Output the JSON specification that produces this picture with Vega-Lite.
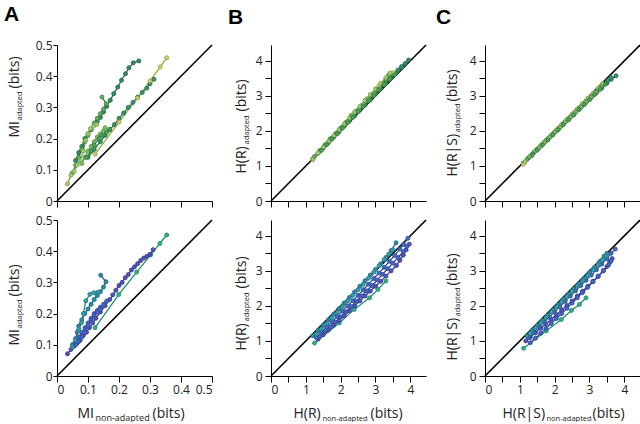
{
"$schema": "https://vega.github.io/schema/vega-lite/v6.json",
"padding": {"left": 4, "top": 4, "right": 0, "bottom": 0},
"bounds": "flush",
"columns": 3,
"spacing": {"row": 19, "column": 59},
"config": {
 "view": {"stroke": null},
 "font": "Open Sans",
 "axis": {"grid": false, "domainColor": "#000", "tickColor": "#000", "labelColor": "#222", "labelFont": "Open Sans", "labelFontSize": 12, "titleFont": "Open Sans", "titleFontWeight": "normal", "titleColor": "#222", "titleFontSize": 14, "tickSize": 5, "labelPadding": 2},
 "title": {"font": "Liberation Sans", "fontSize": 21, "fontWeight": "bold", "anchor": "start", "color": "#000", "frame": "group"}
},
"datasets": {
 "diagA": [{"x": 0, "y": 0}, {"x": 0.5, "y": 0.5}],
 "diagH": [{"x": 0, "y": 0}, {"x": 4.45, "y": 4.45}],
 "pts": [
{"p":"A1","s":"g1","x":0.06,"y":0.13},{"p":"A1","s":"g1","x":0.07,"y":0.155},{"p":"A1","s":"g1","x":0.08,"y":0.175},{"p":"A1","s":"g1","x":0.09,"y":0.2},{"p":"A1","s":"g1","x":0.1,"y":0.215},{"p":"A1","s":"g1","x":0.11,"y":0.228},{"p":"A1","s":"g1","x":0.12,"y":0.245},{"p":"A1","s":"g1","x":0.13,"y":0.255},{"p":"A1","s":"g1","x":0.14,"y":0.268},{"p":"A1","s":"g1","x":0.15,"y":0.285},{"p":"A1","s":"g1","x":0.16,"y":0.303},{"p":"A1","s":"g1","x":0.172,"y":0.323},{"p":"A1","s":"g1","x":0.183,"y":0.344},{"p":"A1","s":"g1","x":0.196,"y":0.365},{"p":"A1","s":"g1","x":0.208,"y":0.387},{"p":"A1","s":"g1","x":0.221,"y":0.408},{"p":"A1","s":"g1","x":0.232,"y":0.427},{"p":"A1","s":"g1","x":0.246,"y":0.443},{"p":"A1","s":"g1","x":0.264,"y":0.449},
{"p":"A1","s":"g2","x":0.1,"y":0.14},{"p":"A1","s":"g2","x":0.12,"y":0.165},{"p":"A1","s":"g2","x":0.14,"y":0.19},{"p":"A1","s":"g2","x":0.155,"y":0.21},{"p":"A1","s":"g2","x":0.17,"y":0.228},{"p":"A1","s":"g2","x":0.185,"y":0.245},{"p":"A1","s":"g2","x":0.2,"y":0.265},{"p":"A1","s":"g2","x":0.215,"y":0.282},{"p":"A1","s":"g2","x":0.23,"y":0.3},{"p":"A1","s":"g2","x":0.245,"y":0.316},{"p":"A1","s":"g2","x":0.26,"y":0.333},{"p":"A1","s":"g2","x":0.275,"y":0.348},{"p":"A1","s":"g2","x":0.29,"y":0.362},{"p":"A1","s":"g2","x":0.3,"y":0.376},{"p":"A1","s":"g2","x":0.313,"y":0.39},
{"p":"A1","s":"g3","x":0.123,"y":0.15},{"p":"A1","s":"g3","x":0.2,"y":0.253},{"p":"A1","s":"g3","x":0.26,"y":0.33},{"p":"A1","s":"g3","x":0.3,"y":0.385},{"p":"A1","s":"g3","x":0.333,"y":0.43},{"p":"A1","s":"g3","x":0.354,"y":0.459},
{"p":"A1","s":"g4","x":0.05,"y":0.09},{"p":"A1","s":"g4","x":0.06,"y":0.115},{"p":"A1","s":"g4","x":0.07,"y":0.14},{"p":"A1","s":"g4","x":0.08,"y":0.165},{"p":"A1","s":"g4","x":0.09,"y":0.19},{"p":"A1","s":"g4","x":0.1,"y":0.21},{"p":"A1","s":"g4","x":0.11,"y":0.23},{"p":"A1","s":"g4","x":0.12,"y":0.25},{"p":"A1","s":"g4","x":0.13,"y":0.265},{"p":"A1","s":"g4","x":0.14,"y":0.28},{"p":"A1","s":"g4","x":0.15,"y":0.295},{"p":"A1","s":"g4","x":0.159,"y":0.312},{"p":"A1","s":"g4","x":0.145,"y":0.333},
{"p":"A1","s":"g5","x":0.034,"y":0.055},{"p":"A1","s":"g5","x":0.045,"y":0.083},{"p":"A1","s":"g5","x":0.055,"y":0.095},{"p":"A1","s":"g5","x":0.065,"y":0.115},{"p":"A1","s":"g5","x":0.075,"y":0.13},{"p":"A1","s":"g5","x":0.085,"y":0.16},{"p":"A1","s":"g5","x":0.093,"y":0.195},{"p":"A1","s":"g5","x":0.1,"y":0.215},{"p":"A1","s":"g5","x":0.108,"y":0.232},{"p":"A1","s":"g5","x":0.118,"y":0.24},{"p":"A1","s":"g5","x":0.128,"y":0.245},
{"p":"A1","s":"g6","x":0.08,"y":0.12},{"p":"A1","s":"g6","x":0.09,"y":0.14},{"p":"A1","s":"g6","x":0.1,"y":0.16},{"p":"A1","s":"g6","x":0.11,"y":0.175},{"p":"A1","s":"g6","x":0.12,"y":0.19},{"p":"A1","s":"g6","x":0.13,"y":0.205},{"p":"A1","s":"g6","x":0.14,"y":0.215},{"p":"A1","s":"g6","x":0.15,"y":0.225},{"p":"A1","s":"g6","x":0.155,"y":0.235},
{"p":"A1","s":"g7","x":0.095,"y":0.14},{"p":"A1","s":"g7","x":0.11,"y":0.16},{"p":"A1","s":"g7","x":0.12,"y":0.18},{"p":"A1","s":"g7","x":0.135,"y":0.2},{"p":"A1","s":"g7","x":0.145,"y":0.21},{"p":"A1","s":"g7","x":0.16,"y":0.22},{"p":"A1","s":"g7","x":0.17,"y":0.23},

{"p":"A2","s":"b1","x":0.123,"y":0.155},{"p":"A2","s":"b1","x":0.199,"y":0.261},{"p":"A2","s":"b1","x":0.257,"y":0.333},{"p":"A2","s":"b1","x":0.302,"y":0.388},{"p":"A2","s":"b1","x":0.332,"y":0.425},{"p":"A2","s":"b1","x":0.354,"y":0.452},
{"p":"A2","s":"b2","x":0.034,"y":0.071},{"p":"A2","s":"b2","x":0.045,"y":0.085},{"p":"A2","s":"b2","x":0.055,"y":0.095},{"p":"A2","s":"b2","x":0.065,"y":0.105},{"p":"A2","s":"b2","x":0.075,"y":0.115},{"p":"A2","s":"b2","x":0.085,"y":0.13},{"p":"A2","s":"b2","x":0.095,"y":0.14},{"p":"A2","s":"b2","x":0.105,"y":0.155},{"p":"A2","s":"b2","x":0.115,"y":0.17},{"p":"A2","s":"b2","x":0.125,"y":0.185},{"p":"A2","s":"b2","x":0.14,"y":0.205},{"p":"A2","s":"b2","x":0.155,"y":0.225},{"p":"A2","s":"b2","x":0.17,"y":0.245},{"p":"A2","s":"b2","x":0.18,"y":0.26},{"p":"A2","s":"b2","x":0.19,"y":0.275},{"p":"A2","s":"b2","x":0.2,"y":0.29},{"p":"A2","s":"b2","x":0.21,"y":0.3},{"p":"A2","s":"b2","x":0.22,"y":0.315},{"p":"A2","s":"b2","x":0.23,"y":0.325},{"p":"A2","s":"b2","x":0.24,"y":0.34},{"p":"A2","s":"b2","x":0.25,"y":0.35},{"p":"A2","s":"b2","x":0.26,"y":0.36},{"p":"A2","s":"b2","x":0.27,"y":0.37},{"p":"A2","s":"b2","x":0.28,"y":0.378},{"p":"A2","s":"b2","x":0.29,"y":0.384},{"p":"A2","s":"b2","x":0.3,"y":0.39},{"p":"A2","s":"b2","x":0.31,"y":0.405},
{"p":"A2","s":"b3","x":0.05,"y":0.1},{"p":"A2","s":"b3","x":0.06,"y":0.11},{"p":"A2","s":"b3","x":0.07,"y":0.125},{"p":"A2","s":"b3","x":0.08,"y":0.14},{"p":"A2","s":"b3","x":0.09,"y":0.155},{"p":"A2","s":"b3","x":0.1,"y":0.17},{"p":"A2","s":"b3","x":0.11,"y":0.185},{"p":"A2","s":"b3","x":0.12,"y":0.2},{"p":"A2","s":"b3","x":0.13,"y":0.21},{"p":"A2","s":"b3","x":0.14,"y":0.22},{"p":"A2","s":"b3","x":0.15,"y":0.23},{"p":"A2","s":"b3","x":0.16,"y":0.24},
{"p":"A2","s":"b4","x":0.05,"y":0.1},{"p":"A2","s":"b4","x":0.06,"y":0.12},{"p":"A2","s":"b4","x":0.065,"y":0.14},{"p":"A2","s":"b4","x":0.07,"y":0.16},{"p":"A2","s":"b4","x":0.08,"y":0.18},{"p":"A2","s":"b4","x":0.09,"y":0.2},{"p":"A2","s":"b4","x":0.1,"y":0.215},{"p":"A2","s":"b4","x":0.11,"y":0.23},{"p":"A2","s":"b4","x":0.12,"y":0.245},{"p":"A2","s":"b4","x":0.13,"y":0.258},{"p":"A2","s":"b4","x":0.14,"y":0.27},{"p":"A2","s":"b4","x":0.15,"y":0.285},{"p":"A2","s":"b4","x":0.158,"y":0.302},{"p":"A2","s":"b4","x":0.141,"y":0.323},
{"p":"A2","s":"b5","x":0.05,"y":0.095},{"p":"A2","s":"b5","x":0.06,"y":0.115},{"p":"A2","s":"b5","x":0.07,"y":0.15},{"p":"A2","s":"b5","x":0.079,"y":0.171},{"p":"A2","s":"b5","x":0.085,"y":0.2},{"p":"A2","s":"b5","x":0.093,"y":0.241},{"p":"A2","s":"b5","x":0.106,"y":0.262},{"p":"A2","s":"b5","x":0.119,"y":0.267},{"p":"A2","s":"b5","x":0.133,"y":0.269},
{"p":"A2","s":"b6","x":0.06,"y":0.1},{"p":"A2","s":"b6","x":0.07,"y":0.11},{"p":"A2","s":"b6","x":0.08,"y":0.125},{"p":"A2","s":"b6","x":0.09,"y":0.14},{"p":"A2","s":"b6","x":0.1,"y":0.16},{"p":"A2","s":"b6","x":0.11,"y":0.18},{"p":"A2","s":"b6","x":0.12,"y":0.195},{"p":"A2","s":"b6","x":0.13,"y":0.205},{"p":"A2","s":"b6","x":0.14,"y":0.215},

{"p":"B1","s":"g1","x":1.2,"y":1.2},{"p":"B1","s":"g1","x":1.35,"y":1.36},{"p":"B1","s":"g1","x":1.5,"y":1.51},{"p":"B1","s":"g1","x":1.65,"y":1.67},{"p":"B1","s":"g1","x":1.8,"y":1.82},{"p":"B1","s":"g1","x":1.95,"y":1.97},{"p":"B1","s":"g1","x":2.1,"y":2.13},{"p":"B1","s":"g1","x":2.25,"y":2.28},{"p":"B1","s":"g1","x":2.4,"y":2.43},{"p":"B1","s":"g1","x":2.55,"y":2.59},{"p":"B1","s":"g1","x":2.7,"y":2.74},{"p":"B1","s":"g1","x":2.85,"y":2.89},{"p":"B1","s":"g1","x":3.0,"y":3.05},{"p":"B1","s":"g1","x":3.15,"y":3.2},{"p":"B1","s":"g1","x":3.3,"y":3.36},{"p":"B1","s":"g1","x":3.45,"y":3.51},{"p":"B1","s":"g1","x":3.6,"y":3.66},{"p":"B1","s":"g1","x":3.75,"y":3.8},{"p":"B1","s":"g1","x":3.85,"y":3.92},{"p":"B1","s":"g1","x":3.95,"y":4.02},
{"p":"B1","s":"g2","x":1.4,"y":1.42},{"p":"B1","s":"g2","x":1.55,"y":1.58},{"p":"B1","s":"g2","x":1.7,"y":1.74},{"p":"B1","s":"g2","x":1.85,"y":1.9},{"p":"B1","s":"g2","x":2.0,"y":2.06},{"p":"B1","s":"g2","x":2.15,"y":2.21},{"p":"B1","s":"g2","x":2.3,"y":2.37},{"p":"B1","s":"g2","x":2.45,"y":2.53},{"p":"B1","s":"g2","x":2.6,"y":2.69},{"p":"B1","s":"g2","x":2.75,"y":2.85},{"p":"B1","s":"g2","x":2.9,"y":3.0},{"p":"B1","s":"g2","x":3.05,"y":3.15},{"p":"B1","s":"g2","x":3.2,"y":3.32},{"p":"B1","s":"g2","x":3.35,"y":3.46},{"p":"B1","s":"g2","x":3.5,"y":3.6},{"p":"B1","s":"g2","x":3.65,"y":3.74},{"p":"B1","s":"g2","x":3.75,"y":3.84},
{"p":"B1","s":"g3","x":1.7,"y":1.78},{"p":"B1","s":"g3","x":2.3,"y":2.45},{"p":"B1","s":"g3","x":2.75,"y":2.92},{"p":"B1","s":"g3","x":3.1,"y":3.28},{"p":"B1","s":"g3","x":3.35,"y":3.53},{"p":"B1","s":"g3","x":3.5,"y":3.66},
{"p":"B1","s":"g4","x":1.25,"y":1.27},{"p":"B1","s":"g4","x":1.4,"y":1.44},{"p":"B1","s":"g4","x":1.55,"y":1.6},{"p":"B1","s":"g4","x":1.7,"y":1.76},{"p":"B1","s":"g4","x":1.85,"y":1.92},{"p":"B1","s":"g4","x":2.0,"y":2.08},{"p":"B1","s":"g4","x":2.15,"y":2.24},{"p":"B1","s":"g4","x":2.3,"y":2.4},{"p":"B1","s":"g4","x":2.45,"y":2.56},{"p":"B1","s":"g4","x":2.6,"y":2.72},{"p":"B1","s":"g4","x":2.75,"y":2.87},{"p":"B1","s":"g4","x":2.9,"y":3.02},{"p":"B1","s":"g4","x":3.05,"y":3.17},{"p":"B1","s":"g4","x":3.2,"y":3.33},{"p":"B1","s":"g4","x":3.3,"y":3.47},{"p":"B1","s":"g4","x":3.38,"y":3.6},
{"p":"B1","s":"g5","x":1.2,"y":1.18},{"p":"B1","s":"g5","x":1.35,"y":1.37},{"p":"B1","s":"g5","x":1.5,"y":1.53},{"p":"B1","s":"g5","x":1.65,"y":1.7},{"p":"B1","s":"g5","x":1.8,"y":1.86},{"p":"B1","s":"g5","x":1.95,"y":2.03},{"p":"B1","s":"g5","x":2.1,"y":2.2},{"p":"B1","s":"g5","x":2.25,"y":2.37},{"p":"B1","s":"g5","x":2.4,"y":2.54},{"p":"B1","s":"g5","x":2.55,"y":2.7},{"p":"B1","s":"g5","x":2.7,"y":2.87},{"p":"B1","s":"g5","x":2.85,"y":3.04},{"p":"B1","s":"g5","x":3.0,"y":3.2},{"p":"B1","s":"g5","x":3.15,"y":3.36},{"p":"B1","s":"g5","x":3.3,"y":3.52},{"p":"B1","s":"g5","x":3.42,"y":3.65},
{"p":"B1","s":"g6","x":1.6,"y":1.63},{"p":"B1","s":"g6","x":1.75,"y":1.79},{"p":"B1","s":"g6","x":1.9,"y":1.95},{"p":"B1","s":"g6","x":2.05,"y":2.11},{"p":"B1","s":"g6","x":2.2,"y":2.27},{"p":"B1","s":"g6","x":2.35,"y":2.43},{"p":"B1","s":"g6","x":2.5,"y":2.59},{"p":"B1","s":"g6","x":2.65,"y":2.75},{"p":"B1","s":"g6","x":2.8,"y":2.9},{"p":"B1","s":"g6","x":2.95,"y":3.05},{"p":"B1","s":"g6","x":3.1,"y":3.2},{"p":"B1","s":"g6","x":3.25,"y":3.33},
{"p":"B1","s":"g7","x":1.45,"y":1.45},{"p":"B1","s":"g7","x":1.6,"y":1.61},{"p":"B1","s":"g7","x":1.75,"y":1.77},{"p":"B1","s":"g7","x":1.9,"y":1.92},{"p":"B1","s":"g7","x":2.05,"y":2.08},{"p":"B1","s":"g7","x":2.2,"y":2.24},{"p":"B1","s":"g7","x":2.35,"y":2.39},{"p":"B1","s":"g7","x":2.5,"y":2.55},{"p":"B1","s":"g7","x":2.65,"y":2.7},{"p":"B1","s":"g7","x":2.8,"y":2.86},{"p":"B1","s":"g7","x":2.95,"y":3.01},{"p":"B1","s":"g7","x":3.1,"y":3.17},{"p":"B1","s":"g7","x":3.25,"y":3.32},{"p":"B1","s":"g7","x":3.4,"y":3.47},{"p":"B1","s":"g7","x":3.55,"y":3.6},

{"p":"B2","s":"b1","x":1.25,"y":0.94},{"p":"B2","s":"b1","x":1.96,"y":1.51},{"p":"B2","s":"b1","x":2.39,"y":1.9},{"p":"B2","s":"b1","x":2.83,"y":2.23},{"p":"B2","s":"b1","x":3.07,"y":2.47},{"p":"B2","s":"b1","x":3.3,"y":2.71},
{"p":"B2","s":"b2","x":1.35,"y":1.05},{"p":"B2","s":"b2","x":1.5,"y":1.18},{"p":"B2","s":"b2","x":1.65,"y":1.31},{"p":"B2","s":"b2","x":1.8,"y":1.45},{"p":"B2","s":"b2","x":1.95,"y":1.58},{"p":"B2","s":"b2","x":2.1,"y":1.72},{"p":"B2","s":"b2","x":2.25,"y":1.86},{"p":"B2","s":"b2","x":2.4,"y":2.0},{"p":"B2","s":"b2","x":2.55,"y":2.14},{"p":"B2","s":"b2","x":2.7,"y":2.28},{"p":"B2","s":"b2","x":2.85,"y":2.42},{"p":"B2","s":"b2","x":3.0,"y":2.56},{"p":"B2","s":"b2","x":3.15,"y":2.7},{"p":"B2","s":"b2","x":3.3,"y":2.85},{"p":"B2","s":"b2","x":3.45,"y":3.0},{"p":"B2","s":"b2","x":3.6,"y":3.15},{"p":"B2","s":"b2","x":3.7,"y":3.3},{"p":"B2","s":"b2","x":3.8,"y":3.45},{"p":"B2","s":"b2","x":3.88,"y":3.6},{"p":"B2","s":"b2","x":3.97,"y":3.76},
{"p":"B2","s":"b3","x":1.3,"y":1.1},{"p":"B2","s":"b3","x":1.45,"y":1.25},{"p":"B2","s":"b3","x":1.6,"y":1.4},{"p":"B2","s":"b3","x":1.75,"y":1.55},{"p":"B2","s":"b3","x":1.9,"y":1.7},{"p":"B2","s":"b3","x":2.05,"y":1.85},{"p":"B2","s":"b3","x":2.2,"y":2.0},{"p":"B2","s":"b3","x":2.35,"y":2.15},{"p":"B2","s":"b3","x":2.5,"y":2.3},{"p":"B2","s":"b3","x":2.65,"y":2.46},{"p":"B2","s":"b3","x":2.8,"y":2.62},{"p":"B2","s":"b3","x":2.95,"y":2.78},{"p":"B2","s":"b3","x":3.1,"y":2.94},{"p":"B2","s":"b3","x":3.25,"y":3.1},{"p":"B2","s":"b3","x":3.4,"y":3.27},{"p":"B2","s":"b3","x":3.55,"y":3.44},{"p":"B2","s":"b3","x":3.7,"y":3.62},{"p":"B2","s":"b3","x":3.8,"y":3.75},{"p":"B2","s":"b3","x":3.93,"y":3.93},
{"p":"B2","s":"b4","x":1.2,"y":1.15},{"p":"B2","s":"b4","x":1.35,"y":1.3},{"p":"B2","s":"b4","x":1.5,"y":1.45},{"p":"B2","s":"b4","x":1.65,"y":1.6},{"p":"B2","s":"b4","x":1.8,"y":1.76},{"p":"B2","s":"b4","x":1.95,"y":1.92},{"p":"B2","s":"b4","x":2.1,"y":2.08},{"p":"B2","s":"b4","x":2.25,"y":2.24},{"p":"B2","s":"b4","x":2.4,"y":2.4},{"p":"B2","s":"b4","x":2.55,"y":2.56},{"p":"B2","s":"b4","x":2.7,"y":2.72},{"p":"B2","s":"b4","x":2.85,"y":2.88},{"p":"B2","s":"b4","x":3.0,"y":3.04},{"p":"B2","s":"b4","x":3.15,"y":3.2},{"p":"B2","s":"b4","x":3.3,"y":3.38},{"p":"B2","s":"b4","x":3.45,"y":3.58},{"p":"B2","s":"b4","x":3.59,"y":3.8},
{"p":"B2","s":"b5","x":1.3,"y":1.2},{"p":"B2","s":"b5","x":1.45,"y":1.35},{"p":"B2","s":"b5","x":1.6,"y":1.5},{"p":"B2","s":"b5","x":1.75,"y":1.66},{"p":"B2","s":"b5","x":1.9,"y":1.82},{"p":"B2","s":"b5","x":2.05,"y":1.98},{"p":"B2","s":"b5","x":2.2,"y":2.14},{"p":"B2","s":"b5","x":2.35,"y":2.3},{"p":"B2","s":"b5","x":2.5,"y":2.46},{"p":"B2","s":"b5","x":2.65,"y":2.62},{"p":"B2","s":"b5","x":2.8,"y":2.79},{"p":"B2","s":"b5","x":2.95,"y":2.96},{"p":"B2","s":"b5","x":3.1,"y":3.14},{"p":"B2","s":"b5","x":3.25,"y":3.32},{"p":"B2","s":"b5","x":3.38,"y":3.48},{"p":"B2","s":"b5","x":3.5,"y":3.6},
{"p":"B2","s":"b6","x":1.4,"y":1.12},{"p":"B2","s":"b6","x":1.55,"y":1.26},{"p":"B2","s":"b6","x":1.7,"y":1.4},{"p":"B2","s":"b6","x":1.85,"y":1.54},{"p":"B2","s":"b6","x":2.0,"y":1.68},{"p":"B2","s":"b6","x":2.15,"y":1.83},{"p":"B2","s":"b6","x":2.3,"y":1.98},{"p":"B2","s":"b6","x":2.45,"y":2.13},{"p":"B2","s":"b6","x":2.6,"y":2.28},{"p":"B2","s":"b6","x":2.75,"y":2.43},{"p":"B2","s":"b6","x":2.9,"y":2.58},{"p":"B2","s":"b6","x":3.05,"y":2.74},{"p":"B2","s":"b6","x":3.2,"y":2.9},{"p":"B2","s":"b6","x":3.35,"y":3.06},{"p":"B2","s":"b6","x":3.5,"y":3.22},{"p":"B2","s":"b6","x":3.65,"y":3.38},{"p":"B2","s":"b6","x":3.8,"y":3.55},{"p":"B2","s":"b6","x":3.9,"y":3.7},

{"p":"C1","s":"g1","x":1.1,"y":1.08},{"p":"C1","s":"g1","x":1.25,"y":1.23},{"p":"C1","s":"g1","x":1.4,"y":1.38},{"p":"C1","s":"g1","x":1.55,"y":1.52},{"p":"C1","s":"g1","x":1.7,"y":1.67},{"p":"C1","s":"g1","x":1.85,"y":1.81},{"p":"C1","s":"g1","x":2.0,"y":1.96},{"p":"C1","s":"g1","x":2.15,"y":2.1},{"p":"C1","s":"g1","x":2.3,"y":2.25},{"p":"C1","s":"g1","x":2.45,"y":2.39},{"p":"C1","s":"g1","x":2.6,"y":2.53},{"p":"C1","s":"g1","x":2.75,"y":2.67},{"p":"C1","s":"g1","x":2.9,"y":2.81},{"p":"C1","s":"g1","x":3.05,"y":2.95},{"p":"C1","s":"g1","x":3.2,"y":3.09},{"p":"C1","s":"g1","x":3.35,"y":3.22},{"p":"C1","s":"g1","x":3.5,"y":3.36},{"p":"C1","s":"g1","x":3.62,"y":3.47},{"p":"C1","s":"g1","x":3.76,"y":3.57},
{"p":"C1","s":"g2","x":1.3,"y":1.28},{"p":"C1","s":"g2","x":1.45,"y":1.43},{"p":"C1","s":"g2","x":1.6,"y":1.57},{"p":"C1","s":"g2","x":1.75,"y":1.72},{"p":"C1","s":"g2","x":1.9,"y":1.86},{"p":"C1","s":"g2","x":2.05,"y":2.01},{"p":"C1","s":"g2","x":2.2,"y":2.15},{"p":"C1","s":"g2","x":2.35,"y":2.3},{"p":"C1","s":"g2","x":2.5,"y":2.44},{"p":"C1","s":"g2","x":2.65,"y":2.59},{"p":"C1","s":"g2","x":2.8,"y":2.73},{"p":"C1","s":"g2","x":2.95,"y":2.88},{"p":"C1","s":"g2","x":3.1,"y":3.02},{"p":"C1","s":"g2","x":3.25,"y":3.17},{"p":"C1","s":"g2","x":3.4,"y":3.31},{"p":"C1","s":"g2","x":3.52,"y":3.43},{"p":"C1","s":"g2","x":3.62,"y":3.52},
{"p":"C1","s":"g3","x":1.1,"y":1.05},{"p":"C1","s":"g3","x":1.65,"y":1.62},{"p":"C1","s":"g3","x":2.15,"y":2.1},{"p":"C1","s":"g3","x":2.6,"y":2.55},{"p":"C1","s":"g3","x":3.0,"y":2.95},{"p":"C1","s":"g3","x":3.3,"y":3.25},
{"p":"C1","s":"g4","x":1.2,"y":1.18},{"p":"C1","s":"g4","x":1.35,"y":1.33},{"p":"C1","s":"g4","x":1.5,"y":1.48},{"p":"C1","s":"g4","x":1.65,"y":1.62},{"p":"C1","s":"g4","x":1.8,"y":1.77},{"p":"C1","s":"g4","x":1.95,"y":1.91},{"p":"C1","s":"g4","x":2.1,"y":2.06},{"p":"C1","s":"g4","x":2.25,"y":2.2},{"p":"C1","s":"g4","x":2.4,"y":2.35},{"p":"C1","s":"g4","x":2.55,"y":2.49},{"p":"C1","s":"g4","x":2.7,"y":2.64},{"p":"C1","s":"g4","x":2.85,"y":2.78},{"p":"C1","s":"g4","x":3.0,"y":2.93},{"p":"C1","s":"g4","x":3.15,"y":3.07},{"p":"C1","s":"g4","x":3.28,"y":3.22},{"p":"C1","s":"g4","x":3.36,"y":3.3},
{"p":"C1","s":"g5","x":1.15,"y":1.12},{"p":"C1","s":"g5","x":1.3,"y":1.28},{"p":"C1","s":"g5","x":1.45,"y":1.43},{"p":"C1","s":"g5","x":1.6,"y":1.58},{"p":"C1","s":"g5","x":1.75,"y":1.73},{"p":"C1","s":"g5","x":1.9,"y":1.88},{"p":"C1","s":"g5","x":2.05,"y":2.03},{"p":"C1","s":"g5","x":2.2,"y":2.18},{"p":"C1","s":"g5","x":2.35,"y":2.33},{"p":"C1","s":"g5","x":2.5,"y":2.48},{"p":"C1","s":"g5","x":2.65,"y":2.63},{"p":"C1","s":"g5","x":2.8,"y":2.78},{"p":"C1","s":"g5","x":2.95,"y":2.93},{"p":"C1","s":"g5","x":3.1,"y":3.07},{"p":"C1","s":"g5","x":3.25,"y":3.22},{"p":"C1","s":"g5","x":3.38,"y":3.35},
{"p":"C1","s":"g6","x":1.55,"y":1.52},{"p":"C1","s":"g6","x":1.7,"y":1.67},{"p":"C1","s":"g6","x":1.85,"y":1.81},{"p":"C1","s":"g6","x":2.0,"y":1.96},{"p":"C1","s":"g6","x":2.15,"y":2.1},{"p":"C1","s":"g6","x":2.3,"y":2.25},{"p":"C1","s":"g6","x":2.45,"y":2.39},{"p":"C1","s":"g6","x":2.6,"y":2.54},{"p":"C1","s":"g6","x":2.75,"y":2.68},{"p":"C1","s":"g6","x":2.9,"y":2.83},{"p":"C1","s":"g6","x":3.05,"y":2.97},{"p":"C1","s":"g6","x":3.18,"y":3.1},
{"p":"C1","s":"g7","x":1.35,"y":1.3},{"p":"C1","s":"g7","x":1.5,"y":1.45},{"p":"C1","s":"g7","x":1.65,"y":1.6},{"p":"C1","s":"g7","x":1.8,"y":1.74},{"p":"C1","s":"g7","x":1.95,"y":1.89},{"p":"C1","s":"g7","x":2.1,"y":2.03},{"p":"C1","s":"g7","x":2.25,"y":2.18},{"p":"C1","s":"g7","x":2.4,"y":2.32},{"p":"C1","s":"g7","x":2.55,"y":2.46},{"p":"C1","s":"g7","x":2.7,"y":2.61},{"p":"C1","s":"g7","x":2.85,"y":2.75},{"p":"C1","s":"g7","x":3.0,"y":2.89},{"p":"C1","s":"g7","x":3.15,"y":3.04},{"p":"C1","s":"g7","x":3.3,"y":3.18},{"p":"C1","s":"g7","x":3.45,"y":3.33},

{"p":"C2","s":"b1","x":1.11,"y":0.79},{"p":"C2","s":"b1","x":1.76,"y":1.29},{"p":"C2","s":"b1","x":2.19,"y":1.61},{"p":"C2","s":"b1","x":2.48,"y":1.87},{"p":"C2","s":"b1","x":2.71,"y":2.04},{"p":"C2","s":"b1","x":2.9,"y":2.23},
{"p":"C2","s":"b2","x":1.17,"y":1.0},{"p":"C2","s":"b2","x":1.3,"y":1.1},{"p":"C2","s":"b2","x":1.45,"y":1.23},{"p":"C2","s":"b2","x":1.6,"y":1.36},{"p":"C2","s":"b2","x":1.75,"y":1.49},{"p":"C2","s":"b2","x":1.9,"y":1.62},{"p":"C2","s":"b2","x":2.05,"y":1.75},{"p":"C2","s":"b2","x":2.2,"y":1.88},{"p":"C2","s":"b2","x":2.35,"y":2.01},{"p":"C2","s":"b2","x":2.5,"y":2.14},{"p":"C2","s":"b2","x":2.65,"y":2.28},{"p":"C2","s":"b2","x":2.8,"y":2.42},{"p":"C2","s":"b2","x":2.95,"y":2.56},{"p":"C2","s":"b2","x":3.1,"y":2.7},{"p":"C2","s":"b2","x":3.25,"y":2.84},{"p":"C2","s":"b2","x":3.4,"y":3.0},{"p":"C2","s":"b2","x":3.5,"y":3.12},{"p":"C2","s":"b2","x":3.58,"y":3.25},{"p":"C2","s":"b2","x":3.65,"y":3.35},
{"p":"C2","s":"b3","x":1.25,"y":1.1},{"p":"C2","s":"b3","x":1.4,"y":1.24},{"p":"C2","s":"b3","x":1.55,"y":1.39},{"p":"C2","s":"b3","x":1.7,"y":1.54},{"p":"C2","s":"b3","x":1.85,"y":1.68},{"p":"C2","s":"b3","x":2.0,"y":1.83},{"p":"C2","s":"b3","x":2.15,"y":1.98},{"p":"C2","s":"b3","x":2.3,"y":2.13},{"p":"C2","s":"b3","x":2.45,"y":2.28},{"p":"C2","s":"b3","x":2.6,"y":2.43},{"p":"C2","s":"b3","x":2.75,"y":2.58},{"p":"C2","s":"b3","x":2.9,"y":2.73},{"p":"C2","s":"b3","x":3.05,"y":2.88},{"p":"C2","s":"b3","x":3.2,"y":3.03},{"p":"C2","s":"b3","x":3.35,"y":3.19},{"p":"C2","s":"b3","x":3.5,"y":3.35},{"p":"C2","s":"b3","x":3.62,"y":3.5},{"p":"C2","s":"b3","x":3.74,"y":3.62},
{"p":"C2","s":"b4","x":1.2,"y":1.15},{"p":"C2","s":"b4","x":1.35,"y":1.3},{"p":"C2","s":"b4","x":1.5,"y":1.44},{"p":"C2","s":"b4","x":1.65,"y":1.59},{"p":"C2","s":"b4","x":1.8,"y":1.74},{"p":"C2","s":"b4","x":1.95,"y":1.89},{"p":"C2","s":"b4","x":2.1,"y":2.04},{"p":"C2","s":"b4","x":2.25,"y":2.19},{"p":"C2","s":"b4","x":2.4,"y":2.34},{"p":"C2","s":"b4","x":2.55,"y":2.49},{"p":"C2","s":"b4","x":2.7,"y":2.64},{"p":"C2","s":"b4","x":2.85,"y":2.79},{"p":"C2","s":"b4","x":3.0,"y":2.95},{"p":"C2","s":"b4","x":3.15,"y":3.1},{"p":"C2","s":"b4","x":3.3,"y":3.27},{"p":"C2","s":"b4","x":3.42,"y":3.42},{"p":"C2","s":"b4","x":3.5,"y":3.5},
{"p":"C2","s":"b5","x":1.3,"y":1.22},{"p":"C2","s":"b5","x":1.45,"y":1.37},{"p":"C2","s":"b5","x":1.6,"y":1.52},{"p":"C2","s":"b5","x":1.75,"y":1.67},{"p":"C2","s":"b5","x":1.9,"y":1.82},{"p":"C2","s":"b5","x":2.05,"y":1.97},{"p":"C2","s":"b5","x":2.2,"y":2.12},{"p":"C2","s":"b5","x":2.35,"y":2.27},{"p":"C2","s":"b5","x":2.5,"y":2.42},{"p":"C2","s":"b5","x":2.65,"y":2.57},{"p":"C2","s":"b5","x":2.8,"y":2.72},{"p":"C2","s":"b5","x":2.95,"y":2.87},{"p":"C2","s":"b5","x":3.1,"y":3.03},{"p":"C2","s":"b5","x":3.25,"y":3.18},{"p":"C2","s":"b5","x":3.38,"y":3.32},{"p":"C2","s":"b5","x":3.48,"y":3.42},
{"p":"C2","s":"b6","x":1.3,"y":0.95},{"p":"C2","s":"b6","x":1.45,"y":1.08},{"p":"C2","s":"b6","x":1.6,"y":1.22},{"p":"C2","s":"b6","x":1.75,"y":1.36},{"p":"C2","s":"b6","x":1.9,"y":1.5},{"p":"C2","s":"b6","x":2.05,"y":1.64},{"p":"C2","s":"b6","x":2.2,"y":1.78},{"p":"C2","s":"b6","x":2.35,"y":1.93},{"p":"C2","s":"b6","x":2.5,"y":2.08},{"p":"C2","s":"b6","x":2.65,"y":2.23},{"p":"C2","s":"b6","x":2.8,"y":2.38},{"p":"C2","s":"b6","x":2.95,"y":2.53},{"p":"C2","s":"b6","x":3.1,"y":2.69},{"p":"C2","s":"b6","x":3.25,"y":2.85},{"p":"C2","s":"b6","x":3.4,"y":3.01},{"p":"C2","s":"b6","x":3.55,"y":3.17},{"p":"C2","s":"b6","x":3.62,"y":3.28}
 ]
},
"concat": [
{
 "width": 155, "height": 156,
 "title": {"text": "A", "dx": -53, "offset": 14},
 "resolve": {"axis": {"x": "independent", "y": "independent"}},
 "layer": [
  {"data": {"name": "diagA"}, "mark": {"type": "line", "color": "#000", "strokeWidth": 1.6},
   "encoding": {
    "x": {"field": "x", "type": "quantitative", "scale": {"domain": [0, 0.5], "nice": false}, "axis": {"orient": "bottom", "values": [0, 0.1, 0.2, 0.3, 0.4, 0.5], "labels": false, "title": null, "tickSize": 6}},
    "y": {"field": "y", "type": "quantitative", "scale": {"domain": [0, 0.5], "nice": false}, "axis": {"orient": "left", "values": [0, 0.1, 0.2, 0.3, 0.4, 0.5], "labelExpr": "datum.value == 0 ? '0' : format(datum.value, '.1f')", "tickSize": 4, "labelPadding": 1, "title": "MI", "titleX": -39, "titleY": 92, "titleAlign": "left", "titleBaseline": "alphabetic", "titleAngle": -90}}}},
  {"data": {"name": "pts"}, "transform": [{"filter": "datum.p == 'A1'"}], "mark": {"type": "line", "strokeWidth": 1.3},
   "encoding": {
    "x": {"field": "x", "type": "quantitative", "axis": null},
    "y": {"field": "y", "type": "quantitative", "axis": {"orient": "left", "labels": false, "ticks": false, "domain": false, "title": "adapted", "titleFontSize": 7.5, "titleX": -36, "titleY": 75, "titleAlign": "left", "titleBaseline": "alphabetic", "titleAngle": -90}},
    "stroke": {"field": "s", "type": "nominal", "legend": null, "scale": {"domain": ["g1","g2","g3","g4","g5","g6","g7","b1","b2","b3","b4","b5","b6"], "range": ["#1d6b47","#237550","#a0a83a","#3f8a3f","#7aa64a","#5c9a48","#2c7d3c","#1a9272","#3b3b98","#2f4f9f","#1d6a86","#1f8090","#2c4aa0"]}},
    "order": {"field": "y"}}},
  {"data": {"name": "pts"}, "transform": [{"filter": "datum.p == 'A1'"}], "mark": {"type": "point", "filled": true, "size": 16, "strokeWidth": 0.9, "opacity": 1},
   "encoding": {
    "x": {"field": "x", "type": "quantitative", "axis": null},
    "y": {"field": "y", "type": "quantitative", "axis": {"orient": "left", "labels": false, "ticks": false, "domain": false, "title": "(bits)", "titleX": -39, "titleY": 43, "titleAlign": "left", "titleBaseline": "alphabetic", "titleAngle": -90}},
    "stroke": {"field": "s", "type": "nominal", "legend": null},
    "fill": {"field": "s", "type": "nominal", "legend": null, "scale": {"domain": ["g1","g2","g3","g4","g5","g6","g7","b1","b2","b3","b4","b5","b6"], "range": ["#3a8a60","#40906a","#c8cc80","#6aaa60","#a8c878","#88b870","#50a060","#3aaa88","#5555b0","#4a6ab8","#3a88a0","#3aa0a8","#4a66b8"]}}}}
 ]
},
{
 "width": 155, "height": 156,
 "title": {"text": "B", "dx": -43, "offset": 14},
 "resolve": {"axis": {"x": "independent", "y": "independent"}},
 "layer": [
  {"data": {"name": "diagH"}, "mark": {"type": "line", "color": "#000", "strokeWidth": 1.6},
   "encoding": {
    "x": {"field": "x", "type": "quantitative", "scale": {"domain": [0, 4.45], "nice": false}, "axis": {"orient": "bottom", "values": [0, 0.5, 1, 1.5, 2, 2.5, 3, 3.5, 4], "labels": false, "title": null, "tickSize": 6}},
    "y": {"field": "y", "type": "quantitative", "scale": {"domain": [0, 4.45], "nice": false}, "axis": {"orient": "left", "values": [0, 0.5, 1, 1.5, 2, 2.5, 3, 3.5, 4], "labelExpr": "datum.value % 1 == 0 ? format(datum.value, 'd') : ''", "tickSize": 6, "labelPadding": 3, "title": "H(R)", "titleX": -26, "titleY": 128, "titleAlign": "left", "titleBaseline": "alphabetic", "titleAngle": -90}}}},
  {"data": {"name": "pts"}, "transform": [{"filter": "datum.p == 'B1'"}], "mark": {"type": "line", "strokeWidth": 1.3},
   "encoding": {
    "x": {"field": "x", "type": "quantitative", "axis": null},
    "y": {"field": "y", "type": "quantitative", "axis": {"orient": "left", "labels": false, "ticks": false, "domain": false, "title": "adapted", "titleFontSize": 7.5, "titleX": -23, "titleY": 99, "titleAlign": "left", "titleBaseline": "alphabetic", "titleAngle": -90}},
    "stroke": {"field": "s", "type": "nominal", "legend": null, "scale": {"domain": ["g1","g2","g3","g4","g5","g6","g7","b1","b2","b3","b4","b5","b6"], "range": ["#1d6b47","#237550","#a0a83a","#3f8a3f","#7aa64a","#5c9a48","#2c7d3c","#1a9272","#3b3b98","#2f4f9f","#1d6a86","#1f8090","#2c4aa0"]}},
    "order": {"field": "y"}}},
  {"data": {"name": "pts"}, "transform": [{"filter": "datum.p == 'B1'"}], "mark": {"type": "point", "filled": true, "size": 16, "strokeWidth": 0.9, "opacity": 1},
   "encoding": {
    "x": {"field": "x", "type": "quantitative", "axis": null},
    "y": {"field": "y", "type": "quantitative", "axis": {"orient": "left", "labels": false, "ticks": false, "domain": false, "title": "(bits)", "titleX": -26, "titleY": 66, "titleAlign": "left", "titleBaseline": "alphabetic", "titleAngle": -90}},
    "stroke": {"field": "s", "type": "nominal", "legend": null},
    "fill": {"field": "s", "type": "nominal", "legend": null, "scale": {"domain": ["g1","g2","g3","g4","g5","g6","g7","b1","b2","b3","b4","b5","b6"], "range": ["#3a8a60","#40906a","#c8cc80","#6aaa60","#a8c878","#88b870","#50a060","#3aaa88","#5555b0","#4a6ab8","#3a88a0","#3aa0a8","#4a66b8"]}}}}
 ]
},
{
 "width": 155, "height": 156,
 "title": {"text": "C", "dx": -49, "offset": 14},
 "resolve": {"axis": {"x": "independent", "y": "independent"}},
 "layer": [
  {"data": {"name": "diagH"}, "mark": {"type": "line", "color": "#000", "strokeWidth": 1.6},
   "encoding": {
    "x": {"field": "x", "type": "quantitative", "scale": {"domain": [0, 4.45], "nice": false}, "axis": {"orient": "bottom", "values": [0, 0.5, 1, 1.5, 2, 2.5, 3, 3.5, 4], "labels": false, "title": null, "tickSize": 6}},
    "y": {"field": "y", "type": "quantitative", "scale": {"domain": [0, 4.45], "nice": false}, "axis": {"orient": "left", "values": [0, 0.5, 1, 1.5, 2, 2.5, 3, 3.5, 4], "labelExpr": "datum.value % 1 == 0 ? format(datum.value, 'd') : ''", "tickSize": 6, "labelPadding": 3, "title": "H(R|S)", "titleX": -29, "titleY": 131, "titleAlign": "left", "titleBaseline": "alphabetic", "titleAngle": -90}}}},
  {"data": {"name": "pts"}, "transform": [{"filter": "datum.p == 'C1'"}], "mark": {"type": "line", "strokeWidth": 1.3},
   "encoding": {
    "x": {"field": "x", "type": "quantitative", "axis": null},
    "y": {"field": "y", "type": "quantitative", "axis": {"orient": "left", "labels": false, "ticks": false, "domain": false, "title": "adapted", "titleFontSize": 7.5, "titleX": -26, "titleY": 87, "titleAlign": "left", "titleBaseline": "alphabetic", "titleAngle": -90}},
    "stroke": {"field": "s", "type": "nominal", "legend": null, "scale": {"domain": ["g1","g2","g3","g4","g5","g6","g7","b1","b2","b3","b4","b5","b6"], "range": ["#1d6b47","#237550","#a0a83a","#3f8a3f","#7aa64a","#5c9a48","#2c7d3c","#1a9272","#3b3b98","#2f4f9f","#1d6a86","#1f8090","#2c4aa0"]}},
    "order": {"field": "y"}}},
  {"data": {"name": "pts"}, "transform": [{"filter": "datum.p == 'C1'"}], "mark": {"type": "point", "filled": true, "size": 16, "strokeWidth": 0.9, "opacity": 1},
   "encoding": {
    "x": {"field": "x", "type": "quantitative", "axis": null},
    "y": {"field": "y", "type": "quantitative", "axis": {"orient": "left", "labels": false, "ticks": false, "domain": false, "title": "(bits)", "titleX": -29, "titleY": 56, "titleAlign": "left", "titleBaseline": "alphabetic", "titleAngle": -90}},
    "stroke": {"field": "s", "type": "nominal", "legend": null},
    "fill": {"field": "s", "type": "nominal", "legend": null, "scale": {"domain": ["g1","g2","g3","g4","g5","g6","g7","b1","b2","b3","b4","b5","b6"], "range": ["#3a8a60","#40906a","#c8cc80","#6aaa60","#a8c878","#88b870","#50a060","#3aaa88","#5555b0","#4a6ab8","#3a88a0","#3aa0a8","#4a66b8"]}}}}
 ]
},
{
 "width": 155, "height": 156,
 "resolve": {"axis": {"x": "independent", "y": "independent"}},
 "layer": [
  {"data": {"name": "diagA"}, "mark": {"type": "line", "color": "#000", "strokeWidth": 1.6},
   "encoding": {
    "x": {"field": "x", "type": "quantitative", "scale": {"domain": [0, 0.5], "nice": false}, "axis": {"orient": "bottom", "values": [0, 0.1, 0.2, 0.3, 0.4, 0.5], "labelExpr": "datum.value == 0 ? '0' : format(datum.value, '.1f')", "tickSize": 6, "title": "MI", "titleX": 20, "titleY": 41, "titleAlign": "left", "titleBaseline": "alphabetic", "titleAngle": 0}},
    "y": {"field": "y", "type": "quantitative", "scale": {"domain": [0, 0.5], "nice": false}, "axis": {"orient": "left", "values": [0, 0.1, 0.2, 0.3, 0.4, 0.5], "labelExpr": "datum.value == 0 ? '0' : format(datum.value, '.1f')", "tickSize": 4, "labelPadding": 1, "title": "MI", "titleX": -39, "titleY": 125, "titleAlign": "left", "titleBaseline": "alphabetic", "titleAngle": -90}}}},
  {"data": {"name": "pts"}, "transform": [{"filter": "datum.p == 'A2'"}], "mark": {"type": "line", "strokeWidth": 1.3},
   "encoding": {
    "x": {"field": "x", "type": "quantitative", "axis": {"orient": "bottom", "labels": false, "ticks": false, "domain": false, "title": "non-adapted", "titleFontSize": 9, "titleX": 38, "titleY": 44, "titleAlign": "left", "titleBaseline": "alphabetic", "titleAngle": 0}},
    "y": {"field": "y", "type": "quantitative", "axis": {"orient": "left", "labels": false, "ticks": false, "domain": false, "title": "adapted", "titleFontSize": 7.5, "titleX": -36, "titleY": 108, "titleAlign": "left", "titleBaseline": "alphabetic", "titleAngle": -90}},
    "stroke": {"field": "s", "type": "nominal", "legend": null, "scale": {"domain": ["g1","g2","g3","g4","g5","g6","g7","b1","b2","b3","b4","b5","b6"], "range": ["#1d6b47","#237550","#a0a83a","#3f8a3f","#7aa64a","#5c9a48","#2c7d3c","#1a9272","#3b3b98","#2f4f9f","#1d6a86","#1f8090","#2c4aa0"]}},
    "order": {"field": "y"}}},
  {"data": {"name": "pts"}, "transform": [{"filter": "datum.p == 'A2'"}], "mark": {"type": "point", "filled": true, "size": 16, "strokeWidth": 0.9, "opacity": 1},
   "encoding": {
    "x": {"field": "x", "type": "quantitative", "axis": {"orient": "bottom", "labels": false, "ticks": false, "domain": false, "title": "(bits)", "titleX": 95, "titleY": 41, "titleAlign": "left", "titleBaseline": "alphabetic", "titleAngle": 0}},
    "y": {"field": "y", "type": "quantitative", "axis": {"orient": "left", "labels": false, "ticks": false, "domain": false, "title": "(bits)", "titleX": -39, "titleY": 76, "titleAlign": "left", "titleBaseline": "alphabetic", "titleAngle": -90}},
    "stroke": {"field": "s", "type": "nominal", "legend": null},
    "fill": {"field": "s", "type": "nominal", "legend": null, "scale": {"domain": ["g1","g2","g3","g4","g5","g6","g7","b1","b2","b3","b4","b5","b6"], "range": ["#3a8a60","#40906a","#c8cc80","#6aaa60","#a8c878","#88b870","#50a060","#3aaa88","#5555b0","#4a6ab8","#3a88a0","#3aa0a8","#4a66b8"]}}}}
 ]
},
{
 "width": 155, "height": 156,
 "resolve": {"axis": {"x": "independent", "y": "independent"}},
 "layer": [
  {"data": {"name": "diagH"}, "mark": {"type": "line", "color": "#000", "strokeWidth": 1.6},
   "encoding": {
    "x": {"field": "x", "type": "quantitative", "scale": {"domain": [0, 4.45], "nice": false}, "axis": {"orient": "bottom", "values": [0, 0.5, 1, 1.5, 2, 2.5, 3, 3.5, 4], "labelExpr": "datum.value % 1 == 0 ? format(datum.value, 'd') : ''", "tickSize": 6, "title": "H(R)", "titleX": 22, "titleY": 41, "titleAlign": "left", "titleBaseline": "alphabetic", "titleAngle": 0}},
    "y": {"field": "y", "type": "quantitative", "scale": {"domain": [0, 4.45], "nice": false}, "axis": {"orient": "left", "values": [0, 0.5, 1, 1.5, 2, 2.5, 3, 3.5, 4], "labelExpr": "datum.value % 1 == 0 ? format(datum.value, 'd') : ''", "tickSize": 6, "labelPadding": 3, "title": "H(R)", "titleX": -26, "titleY": 130, "titleAlign": "left", "titleBaseline": "alphabetic", "titleAngle": -90}}}},
  {"data": {"name": "pts"}, "transform": [{"filter": "datum.p == 'B2'"}], "mark": {"type": "line", "strokeWidth": 1.3},
   "encoding": {
    "x": {"field": "x", "type": "quantitative", "axis": {"orient": "bottom", "labels": false, "ticks": false, "domain": false, "title": "non-adapted", "titleFontSize": 7.5, "titleX": 51, "titleY": 44, "titleAlign": "left", "titleBaseline": "alphabetic", "titleAngle": 0}},
    "y": {"field": "y", "type": "quantitative", "axis": {"orient": "left", "labels": false, "ticks": false, "domain": false, "title": "adapted", "titleFontSize": 7.5, "titleX": -23, "titleY": 101, "titleAlign": "left", "titleBaseline": "alphabetic", "titleAngle": -90}},
    "stroke": {"field": "s", "type": "nominal", "legend": null, "scale": {"domain": ["g1","g2","g3","g4","g5","g6","g7","b1","b2","b3","b4","b5","b6"], "range": ["#1d6b47","#237550","#a0a83a","#3f8a3f","#7aa64a","#5c9a48","#2c7d3c","#1a9272","#3b3b98","#2f4f9f","#1d6a86","#1f8090","#2c4aa0"]}},
    "order": {"field": "y"}}},
  {"data": {"name": "pts"}, "transform": [{"filter": "datum.p == 'B2'"}], "mark": {"type": "point", "filled": true, "size": 16, "strokeWidth": 0.9, "opacity": 1},
   "encoding": {
    "x": {"field": "x", "type": "quantitative", "axis": {"orient": "bottom", "labels": false, "ticks": false, "domain": false, "title": "(bits)", "titleX": 99, "titleY": 41, "titleAlign": "left", "titleBaseline": "alphabetic", "titleAngle": 0}},
    "y": {"field": "y", "type": "quantitative", "axis": {"orient": "left", "labels": false, "ticks": false, "domain": false, "title": "(bits)", "titleX": -26, "titleY": 68, "titleAlign": "left", "titleBaseline": "alphabetic", "titleAngle": -90}},
    "stroke": {"field": "s", "type": "nominal", "legend": null},
    "fill": {"field": "s", "type": "nominal", "legend": null, "scale": {"domain": ["g1","g2","g3","g4","g5","g6","g7","b1","b2","b3","b4","b5","b6"], "range": ["#3a8a60","#40906a","#c8cc80","#6aaa60","#a8c878","#88b870","#50a060","#3aaa88","#5555b0","#4a6ab8","#3a88a0","#3aa0a8","#4a66b8"]}}}}
 ]
},
{
 "width": 155, "height": 156,
 "resolve": {"axis": {"x": "independent", "y": "independent"}},
 "layer": [
  {"data": {"name": "diagH"}, "mark": {"type": "line", "color": "#000", "strokeWidth": 1.6},
   "encoding": {
    "x": {"field": "x", "type": "quantitative", "scale": {"domain": [0, 4.45], "nice": false}, "axis": {"orient": "bottom", "values": [0, 0.5, 1, 1.5, 2, 2.5, 3, 3.5, 4], "labelExpr": "datum.value % 1 == 0 ? format(datum.value, 'd') : ''", "tickSize": 6, "title": "H(R|S)", "titleX": 17, "titleY": 41, "titleAlign": "left", "titleBaseline": "alphabetic", "titleAngle": 0}},
    "y": {"field": "y", "type": "quantitative", "scale": {"domain": [0, 4.45], "nice": false}, "axis": {"orient": "left", "values": [0, 0.5, 1, 1.5, 2, 2.5, 3, 3.5, 4], "labelExpr": "datum.value % 1 == 0 ? format(datum.value, 'd') : ''", "tickSize": 6, "labelPadding": 3, "title": "H(R|S)", "titleX": -29, "titleY": 140, "titleAlign": "left", "titleBaseline": "alphabetic", "titleAngle": -90}}}},
  {"data": {"name": "pts"}, "transform": [{"filter": "datum.p == 'C2'"}], "mark": {"type": "line", "strokeWidth": 1.3},
   "encoding": {
    "x": {"field": "x", "type": "quantitative", "axis": {"orient": "bottom", "labels": false, "ticks": false, "domain": false, "title": "non-adapted", "titleFontSize": 7.5, "titleX": 61, "titleY": 44, "titleAlign": "left", "titleBaseline": "alphabetic", "titleAngle": 0}},
    "y": {"field": "y", "type": "quantitative", "axis": {"orient": "left", "labels": false, "ticks": false, "domain": false, "title": "adapted", "titleFontSize": 7.5, "titleX": -26, "titleY": 96, "titleAlign": "left", "titleBaseline": "alphabetic", "titleAngle": -90}},
    "stroke": {"field": "s", "type": "nominal", "legend": null, "scale": {"domain": ["g1","g2","g3","g4","g5","g6","g7","b1","b2","b3","b4","b5","b6"], "range": ["#1d6b47","#237550","#a0a83a","#3f8a3f","#7aa64a","#5c9a48","#2c7d3c","#1a9272","#3b3b98","#2f4f9f","#1d6a86","#1f8090","#2c4aa0"]}},
    "order": {"field": "y"}}},
  {"data": {"name": "pts"}, "transform": [{"filter": "datum.p == 'C2'"}], "mark": {"type": "point", "filled": true, "size": 16, "strokeWidth": 0.9, "opacity": 1},
   "encoding": {
    "x": {"field": "x", "type": "quantitative", "axis": {"orient": "bottom", "labels": false, "ticks": false, "domain": false, "title": "(bits)", "titleX": 107, "titleY": 41, "titleAlign": "left", "titleBaseline": "alphabetic", "titleAngle": 0}},
    "y": {"field": "y", "type": "quantitative", "axis": {"orient": "left", "labels": false, "ticks": false, "domain": false, "title": "(bits)", "titleX": -29, "titleY": 65, "titleAlign": "left", "titleBaseline": "alphabetic", "titleAngle": -90}},
    "stroke": {"field": "s", "type": "nominal", "legend": null},
    "fill": {"field": "s", "type": "nominal", "legend": null, "scale": {"domain": ["g1","g2","g3","g4","g5","g6","g7","b1","b2","b3","b4","b5","b6"], "range": ["#3a8a60","#40906a","#c8cc80","#6aaa60","#a8c878","#88b870","#50a060","#3aaa88","#5555b0","#4a6ab8","#3a88a0","#3aa0a8","#4a66b8"]}}}}
 ]
}
]
}
